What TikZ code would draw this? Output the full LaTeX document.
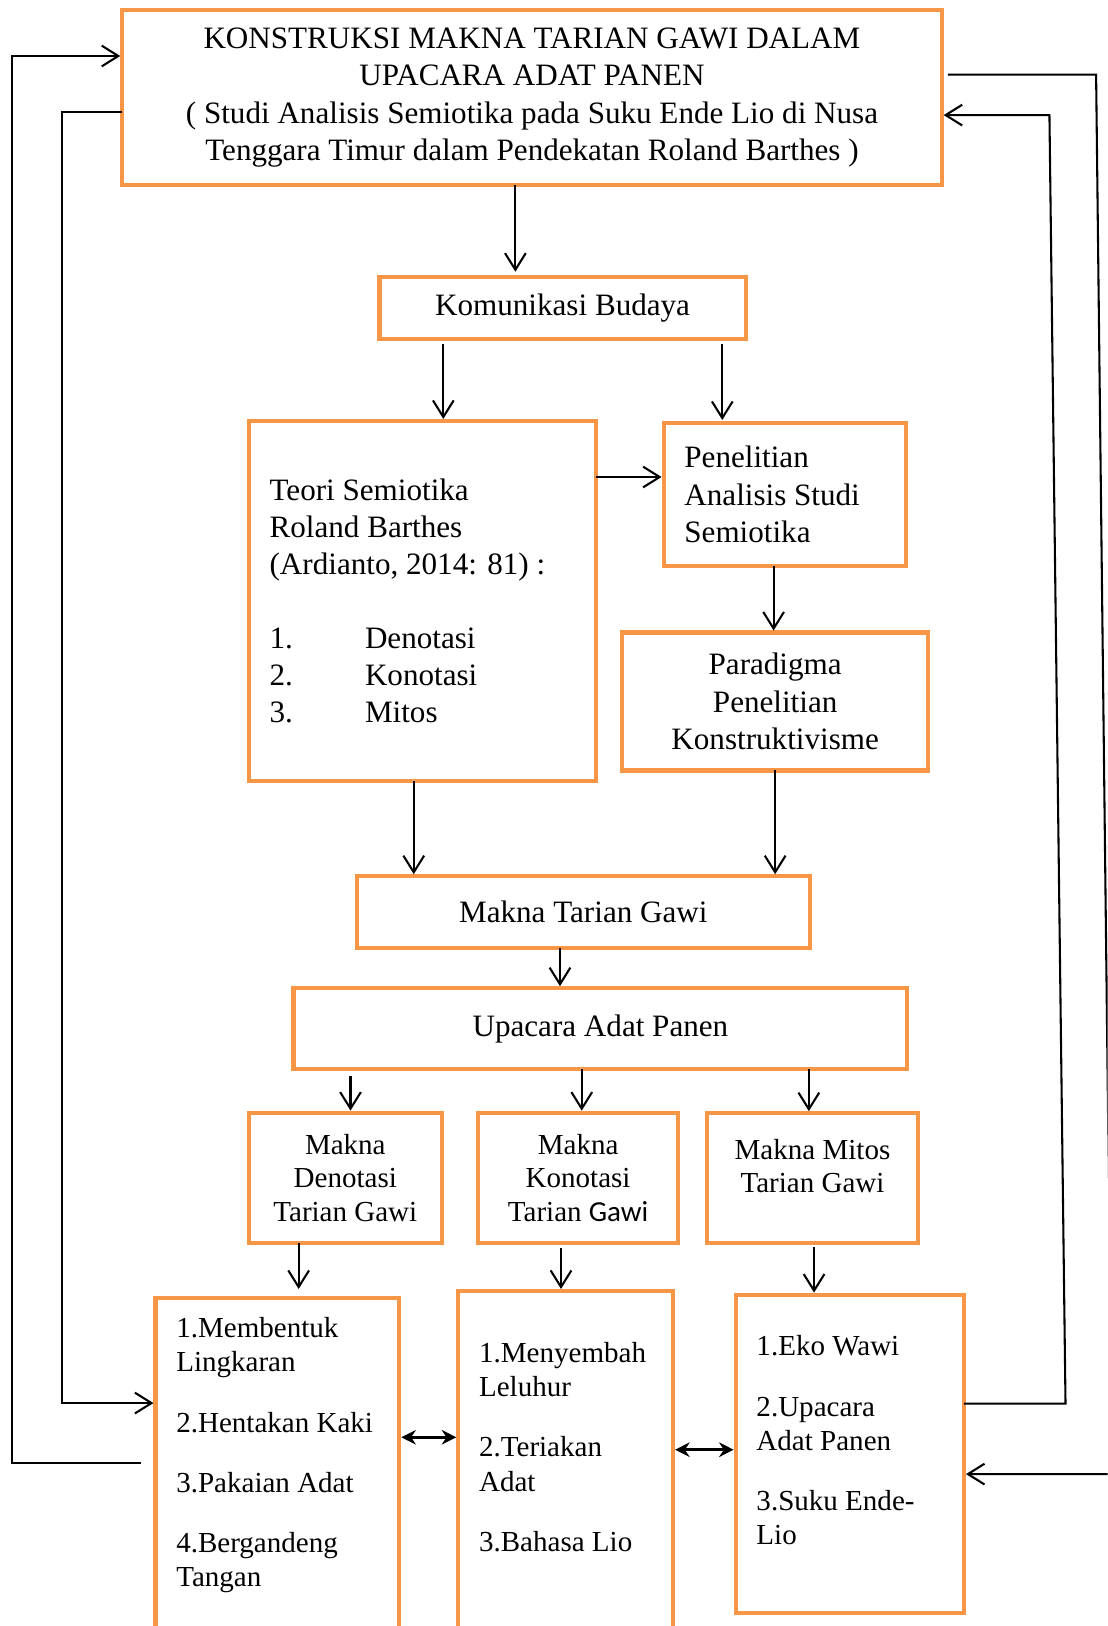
\documentclass[tikz,border=0pt]{standalone}
\usepackage{fontspec}
\setmainfont{Liberation Serif}
\newfontfamily\calibrisub{Carlito}
\usetikzlibrary{positioning,arrows.meta}
\definecolor{boxorange}{HTML}{F79646}
\hyphenpenalty=10000

\begin{document}
\begin{tikzpicture}[>={Straight Barb[length=8pt,width=10pt]},line width=1pt,
   box/.style={draw=boxorange,line width=2pt,outer sep=0pt,align=center,
     font=\fontsize{15}{18}\selectfont},
   smallbox/.style={box,font=\fontsize{14}{16}\selectfont},
   listbox/.style={draw=boxorange,line width=2pt,outer sep=0pt,align=flush left,
     inner xsep=10pt,inner ysep=0pt,font=\fontsize{14}{16.5}\selectfont},
   both/.style={{Stealth[length=7pt,width=7pt]}-{Stealth[length=7pt,width=7pt]},
     line width=1.3pt,shorten <=1pt,shorten >=1pt}]
  \useasboundingbox (0,0) rectangle (534pt,-784pt);
  \clip (0,0) rectangle (534pt,-784pt);
  % main chain
  \node[box,minimum width=395pt,minimum height=84pt] (title) at (256.5pt,-47pt)
    {KONSTRUKSI MAKNA TARIAN GAWI DALAM\\UPACARA ADAT PANEN\\( Studi Analisis Semiotika pada Suku Ende Lio di Nusa\\Tenggara Timur dalam Pendekatan Roland Barthes )};
  \node[box,minimum width=176.5pt,minimum height=30pt] (budaya) [below=44.5pt of title,xshift=14.75pt] {Komunikasi Budaya};
  \node[box,align=flush left,inner xsep=10pt,text width=147.5pt,minimum height=173.5pt] (teori) [below=39.5pt of budaya,xshift=-67.5pt]
    {Teori Semiotika\\Roland Barthes\\(Ardianto, 2014: 81) :\\[17.5pt]
     \makebox[46pt][l]{1.}Denotasi\\\makebox[46pt][l]{2.}Konotasi\\\makebox[46pt][l]{3.}Mitos};
  \node[box,align=flush left,inner xsep=10pt,text width=97pt,minimum height=69pt] (studi) [below=40.5pt of budaya,xshift=107.25pt]
    {Penelitian\\Analisis Studi\\Semiotika};
  \node[box,minimum width=147.5pt,minimum height=66.5pt] (paradigma) [below=32pt of studi,xshift=-4.75pt]
    {Paradigma\\Penelitian\\Konstruktivisme};
  \node[box,minimum width=218.5pt,minimum height=34.5pt] (makna) [below=46pt of teori,xshift=77.5pt] {Makna Tarian Gawi};
  \node[box,minimum width=296pt,minimum height=39pt] (upacara) [below=19.5pt of makna,xshift=8.25pt] {Upacara Adat Panen};
  % three meanings
  \node[smallbox,minimum width=96.5pt,minimum height=63pt] (konotasi) [below=21pt of upacara,xshift=-10.75pt]
    {Makna\\Konotasi\\Tarian {\calibrisub Gawi}};
  \node[smallbox,minimum width=93pt,minimum height=63pt] (denotasi) [left=17.5pt of konotasi]
    {Makna\\Denotasi\\Tarian Gawi};
  \node[smallbox,minimum width=101.5pt,minimum height=62.5pt] (mitos) [right=14pt of konotasi]
    {Makna Mitos\\Tarian Gawi\\[-4pt]\mbox{}};
  % lists
  \node[listbox,text width=97.5pt,text height=19pt,text depth=200pt] (denolist) [below=26.5pt of denotasi,xshift=-32.75pt]
    {1.Membentuk\\Lingkaran\\[12.5pt]2.Hentakan Kaki\\[12.5pt]3.Pakaian Adat\\[12.5pt]4.Bergandeng\\Tangan};
  \node[listbox,text width=83.5pt,text height=34.5pt,text depth=200pt] (konolist) [below=23pt of konotasi,xshift=-6pt]
    {1.Menyembah\\Leluhur\\[12.5pt]2.Teriakan\\Adat\\[12.5pt]3.Bahasa Lio};
  \node[listbox,text width=90pt,text height=29.5pt,text depth=124pt] (mitoslist) [below=25pt of mitos,xshift=18pt]
    {1.Eko Wawi\\[12.5pt]2.Upacara\\Adat Panen\\[12.5pt]3.Suku Ende-\\Lio};
  % arrows down the chain
  \draw[->,shorten >=2.5pt] ([xshift=-8pt]title.south) -- ([xshift=-8pt]title.south |- budaya.north);
  \draw[->,shorten <=2.5pt,shorten >=1pt] ([xshift=-57.5pt]budaya.south) -- ([xshift=-57.5pt]budaya.south |- teori.north);
  \draw[->,shorten <=2.5pt,shorten >=1.5pt] ([xshift=77pt]budaya.south) -- ([xshift=77pt]budaya.south |- studi.north);
  \draw[->,shorten >=1pt] ([yshift=59.75pt]teori.east) -- ([yshift=59.75pt]teori.east -| studi.west);
  \draw[->,shorten >=1pt] ([xshift=-5.5pt]studi.south) -- ([xshift=-5.5pt]studi.south |- paradigma.north);
  \draw[->,shorten >=1pt] ([xshift=-4.25pt]teori.south) -- ([xshift=-4.25pt]teori.south |- makna.north);
  \draw[->,shorten >=1pt] (paradigma.south) -- (paradigma.south |- makna.north);
  \draw[->,shorten >=1pt] ([xshift=-11.25pt]makna.south) -- ([xshift=-11.25pt]makna.south |- upacara.north);
  \draw[->,shorten <=3.5pt,shorten >=1pt] ([xshift=2.5pt]denotasi.north |- upacara.south) -- ([xshift=2.5pt]denotasi.north);
  \draw[->,shorten >=1pt] ([xshift=1.75pt]konotasi.north |- upacara.south) -- ([xshift=1.75pt]konotasi.north);
  \draw[->,shorten >=1pt] ([xshift=-1.75pt]mitos.north |- upacara.south) -- ([xshift=-1.75pt]mitos.north);
  \draw[->,shorten >=4.5pt] ([xshift=-22.5pt]denotasi.south) -- ([xshift=-22.5pt]denotasi.south |- denolist.north);
  \draw[->,shorten <=2pt,shorten >=1pt] ([xshift=-8.25pt]konotasi.south) -- ([xshift=-8.25pt]konotasi.south |- konolist.north);
  \draw[->,shorten <=2pt,shorten >=1pt] ([xshift=0.75pt]mitos.south) -- ([xshift=0.75pt]mitos.south |- mitoslist.north);
  % links between the lists
  \draw[both] ([yshift=-67pt]denolist.north east) -- ([yshift=-67pt]denolist.north east -| konolist.west);
  \draw[both] ([yshift=-76.5pt]konolist.north east) -- ([yshift=-76.5pt]konolist.north east -| mitoslist.west);
  % feedback back to the title
  \draw[->,shorten >=1pt] ([xshift=-7pt,yshift=-79.5pt]denolist.north west) -- ++(-62pt,0) |- ([yshift=-22pt]title.north west);
  \draw[->,shorten >=1pt] ([yshift=-49pt]title.north west) -- ++(-29pt,0) |- ([yshift=-50.5pt]denolist.north west);
  \coordinate (rin) at ([xshift=52pt,yshift=-50.5pt]title.north east);
  \draw[->,shorten >=1pt] ([yshift=-52.5pt]mitoslist.north east) -- ++(49pt,0) -- (rin) -- (rin -| title.east);
  \coordinate (rout) at ([xshift=74.5pt,yshift=-31pt]title.north east);
  \coordinate (rcorner) at ([xshift=71.5pt,yshift=-86.5pt]mitoslist.north east);
  \draw[->,shorten >=1pt] ([xshift=3pt]rout -| title.east) -- (rout) -- (rcorner) -- (rcorner -| mitoslist.east);
\end{tikzpicture}
\end{document}
